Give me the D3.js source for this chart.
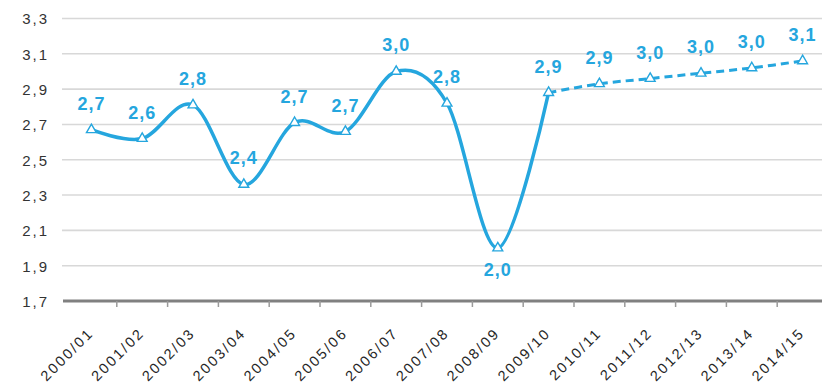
<!DOCTYPE html>
<html>
<head>
<meta charset="utf-8">
<script src="https://cdn.jsdelivr.net/npm/d3@7/dist/d3.min.js"></script>
<style>
  html, body { margin: 0; padding: 0; background: #fff; }
  svg { display: block; }
  text { font-family: "Liberation Sans", Arial, sans-serif; }
</style>
</head>
<body>
<svg id="chart" width="822" height="388"></svg>
<script>
// Seasons on the category axis
const categories = ["2000/01", "2001/02", "2002/03", "2003/04", "2004/05", "2005/06", "2006/07",
  "2007/08", "2008/09", "2009/10", "2010/11", "2011/12", "2012/13", "2013/14", "2014/15"];
// Observed values (solid line), seasons 2000/01 to 2009/10
const actual = [2.67, 2.62, 2.81, 2.36, 2.71, 2.66, 3.0, 2.82, 2.0, 2.88];
// Projected values (dashed line), seasons 2009/10 to 2014/15
const projected = [2.88, 2.93, 2.96, 2.99, 3.02, 3.06];
// Value axis ticks
const yTicks = [1.7, 1.9, 2.1, 2.3, 2.5, 2.7, 2.9, 3.1, 3.3];

const blue = "#25a6de";
const svg = d3.select("#chart");

const x = d3.scaleBand().domain(categories).range([66, 828]);
const y = d3.scaleLinear().domain([1.7, 3.3]).range([301, 18.5]);
const cx = c => x(c) + x.bandwidth() / 2;

const locale = d3.formatLocale({ decimal: ",", thousands: ".", grouping: [3], currency: ["", " €"] });
const fmt = locale.format(".1f");

// Horizontal gridlines
svg.append("g")
  .selectAll("line")
  .data(yTicks.slice(1))
  .join("line")
  .attr("x1", 62).attr("x2", 822)
  .attr("y1", d => y(d)).attr("y2", d => y(d))
  .attr("stroke", "#d8d8d8")
  .attr("stroke-width", 1.6);

// Value axis labels
const yAxis = svg.append("g")
  .attr("transform", "translate(49,0)")
  .call(d3.axisLeft(y).tickValues(yTicks).tickFormat(fmt).tickSize(0).tickPadding(0));
yAxis.select(".domain").remove();
yAxis.selectAll("text")
  .attr("fill", "#333")
  .style("font-size", "15px")
  .style("letter-spacing", "2px")
  .attr("dy", "0.36em");

// Category axis: labels
const xAxis = svg.append("g")
  .attr("transform", "translate(0,301)")
  .call(d3.axisBottom(x).tickSize(0).tickPadding(0));
xAxis.select(".domain").remove();
xAxis.selectAll("text")
  .attr("fill", "#262626")
  .style("font-size", "14.5px")
  .style("letter-spacing", "2.2px")
  .attr("text-anchor", "end")
  .attr("y", 0).attr("dy", 0)
  .attr("transform", "translate(3,33) rotate(-45)");

// Category axis: line and boundary ticks
svg.append("line")
  .attr("x1", 63).attr("x2", 822)
  .attr("y1", 301).attr("y2", 301)
  .attr("stroke", "#808080").attr("stroke-width", 3);
svg.append("g")
  .selectAll("line")
  .data(categories.slice(1))
  .join("line")
  .attr("x1", d => x(d)).attr("x2", d => x(d))
  .attr("y1", 301).attr("y2", 307)
  .attr("stroke", "#9a9a9a").attr("stroke-width", 1.5);

const actualPts = actual.map((v, i) => ({ c: categories[i], v }));
const projPts = projected.map((v, i) => ({ c: categories[i + actual.length - 1], v }));

const line = d3.line().x(d => cx(d.c)).y(d => y(d.v)).curve(d3.curveCardinal.tension(0));

svg.append("path")
  .datum(actualPts)
  .attr("d", line)
  .attr("fill", "none").attr("stroke", blue).attr("stroke-width", 3.5)
  .attr("stroke-linejoin", "round");

svg.append("path")
  .datum(projPts)
  .attr("d", line)
  .attr("fill", "none").attr("stroke", blue).attr("stroke-width", 3)
  .attr("stroke-dasharray", "8,5");

// Triangle markers
const tri = d3.symbol().type(d3.symbolTriangle).size(42);
const allPts = actualPts.concat(projPts.slice(1));
svg.append("g")
  .selectAll("path")
  .data(allPts)
  .join("path")
  .attr("d", tri)
  .attr("transform", d => `translate(${cx(d.c)},${y(d.v)})`)
  .attr("fill", "#fff").attr("stroke", blue).attr("stroke-width", 1.4);

// Value labels (the 2008/09 low sits below its point)
svg.append("g")
  .selectAll("text")
  .data(allPts)
  .join("text")
  .attr("x", d => cx(d.c))
  .attr("y", d => d.v < 2.2 ? y(d.v) + 28 : y(d.v) - 20)
  .attr("text-anchor", "middle")
  .attr("fill", blue)
  .style("font-size", "18px")
  .style("font-weight", "bold")
  .style("letter-spacing", "1px")
  .text(d => fmt(d.v));
</script>
</body>
</html>
